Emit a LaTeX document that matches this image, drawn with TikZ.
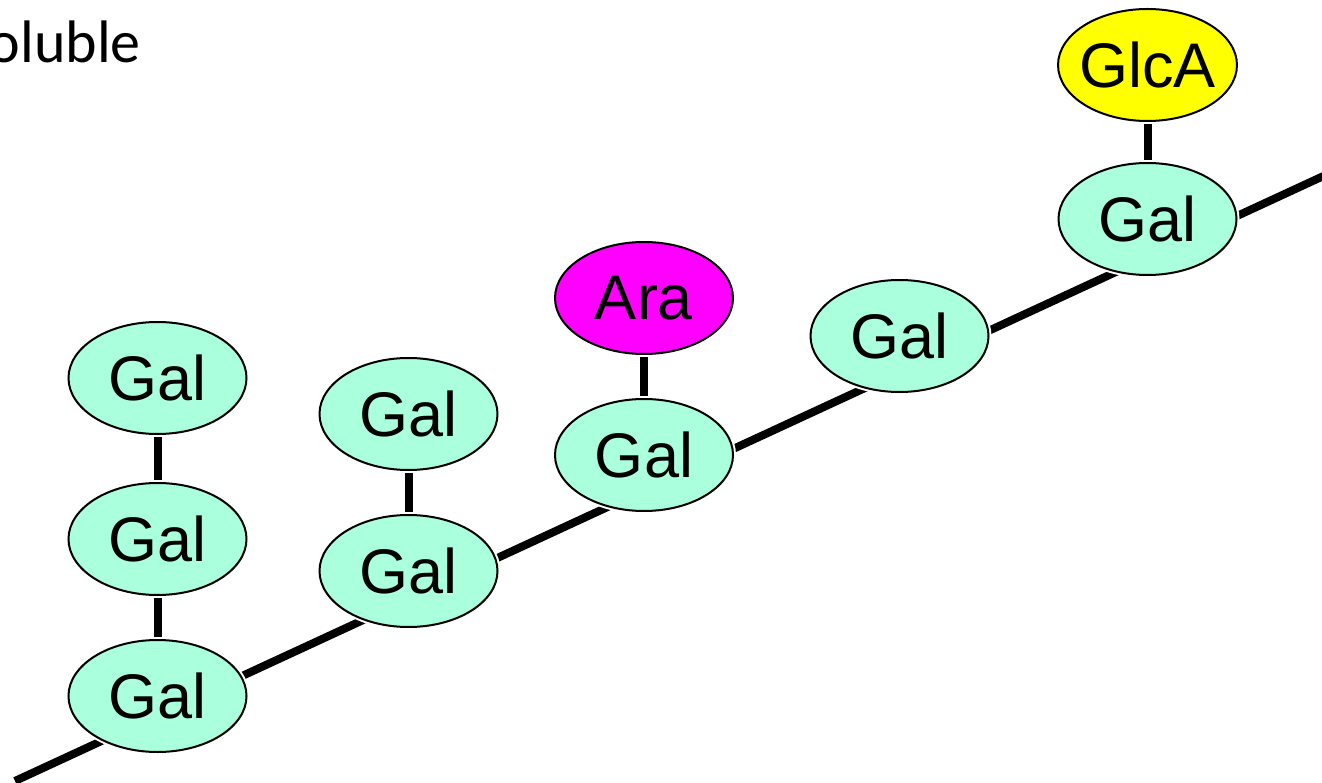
\documentclass[tikz,border=0pt]{standalone}
\usepackage{fontspec}
\setmainfont{Liberation Sans}
\newfontfamily\calibfont{Carlito}
\usetikzlibrary{shapes.geometric}
\definecolor{galfill}{RGB}{170,255,221}
\definecolor{arafill}{RGB}{255,0,255}
\definecolor{glcfill}{RGB}{255,255,0}
\tikzset{
  sugar/.style={ellipse, draw=black, line width=2pt, minimum width=178pt, minimum height=112pt, inner sep=0pt,
    preaction={draw=white, line width=6pt},
    font=\fontsize{63}{63}\selectfont},
  gal/.style={sugar, fill=galfill},
  ara/.style={sugar, fill=arafill},
  glca/.style={sugar, fill=glcfill, inner xsep=-5pt},
  bond/.style={line width=8pt, black},
  sidebond/.style={bond, shorten <=2pt, shorten >=2pt},
}
\begin{document}
\begin{tikzpicture}[x=1pt, y=-1pt]
\clip (0,0) rectangle (1322,783);
\fill[white] (0,0) rectangle (1322,783);
% backbone
\coordinate (bs) at (15,781);
\coordinate (be) at (1330,173);
\draw[bond] (bs) -- (be);
% label
\node[anchor=base east, inner sep=0pt, font=\calibfont\fontsize{60}{60}\selectfont] (lab) at (141,63) {oluble};
% sugars
\node[gal] (g1) at (157.5,696) {Gal};
\node[gal] (g2) at (157.5,539) {Gal};
\node[gal] (g3) at (157.5,378) {Gal};
\node[gal] (g4) at (408.5,571) {Gal};
\node[gal] (g5) at (408.5,414) {Gal};
\node[gal] (g6) at (644,455) {Gal};
\node[ara] (ara) at (644,298) {Ara};
\node[gal] (g7) at (899.5,336) {Gal};
\node[gal] (g8) at (1147.5,219) {Gal};
\node[glca] (glca) at (1147.5,65) {GlcA};
% side-chain bonds
\draw[sidebond] (g1) -- (g2);
\draw[sidebond] (g2) -- (g3);
\draw[sidebond] (g4) -- (g5);
\draw[sidebond] (g6) -- (ara);
\draw[sidebond] (g8) -- (glca);
\end{tikzpicture}
\end{document}
